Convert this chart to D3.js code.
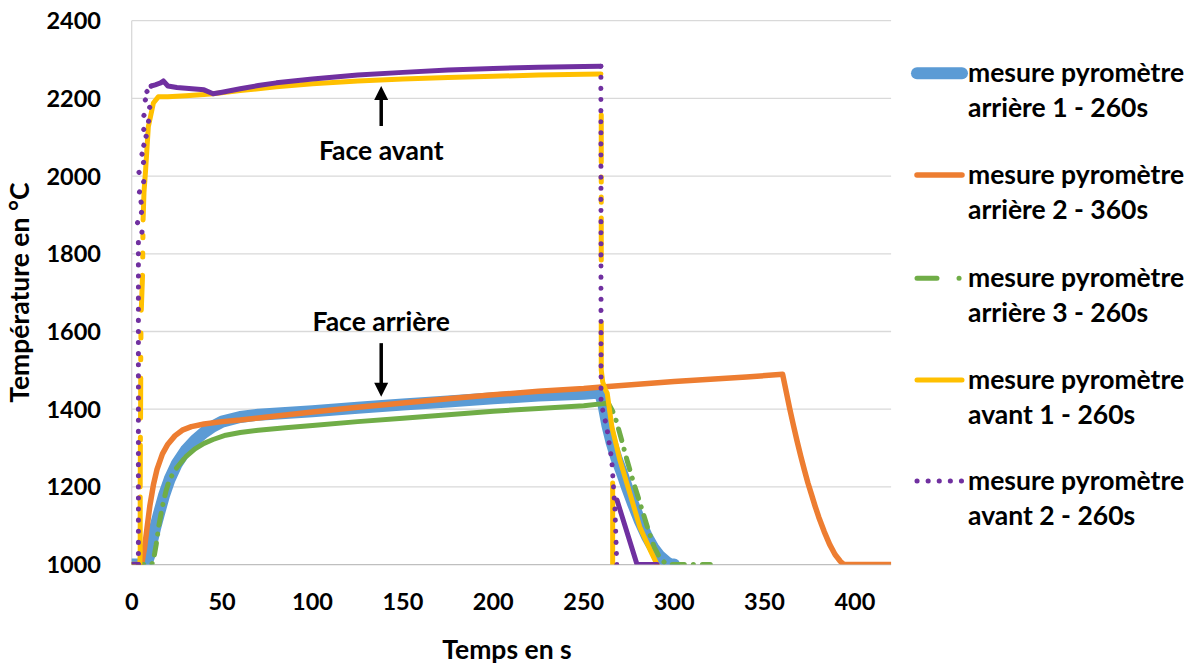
<!DOCTYPE html>
<html><head><meta charset="utf-8">
<script src="https://cdn.jsdelivr.net/npm/d3@7"></script>
<style>
html,body{margin:0;padding:0;background:#fff;}
svg{display:block;}
text{font-family:Lato,"Open Sans",sans-serif;font-weight:700;fill:#000;}
</style></head>
<body>
<svg id="chart" width="1200" height="664"></svg>
<script>
// ---- data (time in s, temperature in °C); null = break in the trace ----
const xTicks = [0, 50, 100, 150, 200, 250, 300, 350, 400];
const yTicks = [1000, 1200, 1400, 1600, 1800, 2000, 2200, 2400];

const seriesNames = [
  ["mesure pyromètre", "arrière 1 - 260s"],
  ["mesure pyromètre", "arrière 2 - 360s"],
  ["mesure pyromètre", "arrière 3 - 260s"],
  ["mesure pyromètre", "avant 1 - 260s"],
  ["mesure pyromètre", "avant 2 - 260s"]
];

// arrière 1 (back face, 260 s)
const arriere1 = [[0,1000],[8,1000],[9.5,1020],[11,1055],[13,1095],[15,1130],[18,1180],[21,1220],[25,1260],[30,1295],[35,1320],[40,1340],[45,1356],[50,1368],[60,1380],[70,1386],[85,1390],[100,1395],[125,1404],[150,1412],[175,1420],[200,1428],[225,1435],[250,1440],[259,1443],[261,1410],[263,1360],[265.5,1313],[268,1275],[271,1238],[274,1198],[277,1160],[281,1113],[285,1072],[288.5,1043],[292,1022],[296,1006],[298,1000],[300,1000]];

// arrière 2 (back face, 360 s)
const arriere2 = [[0,1000],[5.5,1000],[7,1040],[8.5,1095],[10,1150],[12,1205],[14,1245],[17,1285],[20,1310],[24,1332],[28,1346],[33,1355],[40,1362],[50,1368],[60,1372],[75,1380],[100,1393],[125,1405],[150,1416],[175,1427],[200,1437],[225,1446],[250,1453],[260,1457],[280,1464],[300,1471],[320,1477],[340,1483],[360,1490],[362,1445],[364,1400],[366,1358],[368,1318],[370,1280],[372,1244],[374,1210],[376,1180],[378,1150],[380,1122],[383,1085],[386,1052],[389,1026],[392,1008],[394,1000],[420,1000]];

// arrière 3 (back face, 260 s): sparse parts render dashed, dense plateau renders solid
const arriere3Rise = [[0,1000],[11,1000],[12,1010],[13.5,1050],[15,1100],[17,1150],[19,1190],[21,1220],[25,1250],[30,1278]];
const arriere3Plateau = [[30,1278],[35,1298],[40,1312],[45,1322],[52,1333],[60,1340],[70,1346],[85,1352],[100,1358],[125,1368],[150,1377],[175,1386],[200,1395],[225,1402],[250,1409],[262,1415]];
const arriere3Cool = [[262,1415],[264,1412],[266,1395],[268,1370],[271,1320],[274,1268],[277,1220],[280,1175],[283,1130],[286,1085],[289,1045],[292,1018],[295,1004],[297,1000],[320,1000]];

// avant 1 (front face, 260 s)
const avant1 = [[0,1000],[4.5,1000],[4.7,1030],[4.7,1174],null,[4.7,1200],[4.8,1308],null,[4.8,1321],[4.8,1328],null,[4.9,1377],[5,1480],null,[5,1527],[5,1534],null,[5.1,1583],[5.1,1596],null,[5.3,1655],[6,1745],null,[6.1,1792],[6.1,1802],null,[6.2,1841],[6.2,1848],null,[6.3,1887],[6.8,1959],[7.7,2016],[9.2,2127],[12,2188],[14.7,2204],[20,2204],[30,2207],[40,2210],[45,2212],[60,2220],[80,2230],[100,2238],[125,2245],[150,2250],[175,2254],[200,2257],[225,2260],[250,2262],[259.5,2263],null,[259.7,2157],[259.7,2036],null,[259.7,1998],[259.7,1985],null,[259.7,1946],[259.7,1933],null,[259.7,1892],[259.7,1784],null,[259.7,1624],[259.7,1501],[260.5,1470],[262,1450],[263,1441],[265.6,1354],[270,1269],[275.5,1184],[281,1097],[286.7,1038],[290.6,1000],null,[266,1210],[266,1000]];

// avant 2 (front face, 260 s): dotted where sparse, solid where dense
const avant2Start = [[0,1000],[3.7,1000]];
const avant2Rise = [[3.7,1000],[3.7,1830],[6,1860],[3.2,1880],[6.5,1920],[3.5,1950],[7,1990],[4,2010],[8,2050],[4.5,2060],[9,2100],[5,2110],[10,2140],[5.5,2150],[10.5,2175],[6.5,2190],[10,2210],[7,2225],[9.5,2230],[11,2232]];
const avant2Plateau = [[11,2232],[13,2235],[16,2240],[17.5,2245],[20,2232],[25,2228],[30,2226],[35,2224],[40,2222],[45,2212],[50,2216],[60,2225],[70,2233],[80,2240],[100,2250],[125,2260],[150,2267],[175,2273],[200,2277],[225,2280],[250,2282],[259.5,2283]];
const avant2Drop = [[259.5,2283],[259.6,1415],[262.7,1355],[265.5,1269],[267.3,1140],[268.3,1000]];
const avant2Tail = [[268.4,1166],[279.5,1000],[290.6,1000]];

const annotations = [
  {label:"Face avant", t:138, textV:2067, from:2129, to:2232},
  {label:"Face arrière", t:138, textV:1627, from:1570, to:1432}
];

// ---- layout ----
const svg = d3.select("#chart");
const x = d3.scaleLinear().domain([0,420]).range([131.7,891.1]);
const y = d3.scaleLinear().domain([1000,2400]).range([564.6,20.7]);

const colors = ["#5B9BD5","#ED7D31","#70AD47","#FFC000","#7030A0"];
const widths = [12, 5.5, 5, 5, 5];
const GREEN_DASH = "12,9,0.1,9";
const PURPLE_DOT = "0.1,11";

const labelFont = "26.5px", numFont = "23.5px";

// gridlines
svg.append("g").selectAll("line").data(yTicks.filter(d=>d>1000)).join("line")
  .attr("x1", x(0)).attr("x2", x(420))
  .attr("y1", d=>y(d)).attr("y2", d=>y(d))
  .attr("stroke","#d9d9d9").attr("stroke-width",1.3);
svg.append("line").attr("x1",x(0)).attr("x2",x(0)).attr("y1",y(2400)).attr("y2",y(1000))
  .attr("stroke","#d9d9d9").attr("stroke-width",1.3);
svg.append("line").attr("x1",x(0)).attr("x2",x(420)).attr("y1",y(1000)).attr("y2",y(1000))
  .attr("stroke","#bfbfbf").attr("stroke-width",1.3);

// tick labels
svg.append("g").selectAll("text").data(yTicks).join("text")
  .attr("x", 101).attr("y", d=>y(d)).attr("dy","0.36em")
  .attr("text-anchor","end").style("font-size",numFont).text(d=>d);
svg.append("g").selectAll("text").data(xTicks).join("text")
  .attr("x", d=>x(d)).attr("y", 602).attr("dy","0.36em")
  .attr("text-anchor","middle").style("font-size",numFont).text(d=>d);

// axis titles
svg.append("text").attr("x",507).attr("y",649).attr("dy","0.36em")
  .attr("text-anchor","middle").style("font-size",labelFont).text("Temps en s");
svg.append("text").attr("transform",`translate(19,${(y(1000)+y(2400))/2}) rotate(-90)`)
  .attr("dy","0.36em").attr("text-anchor","middle").style("font-size",labelFont).text("Température en °C");

// clip
svg.append("clipPath").attr("id","plotclip").append("rect")
  .attr("x",x(0)).attr("y",y(2400)).attr("width",x(420)-x(0)).attr("height",y(1000)-y(2400));

const line = d3.line().defined(d=>d!==null).x(d=>x(d[0])).y(d=>y(d[1]));
const plot = svg.append("g").attr("clip-path","url(#plotclip)");
function draw(data, i, dash) {
  plot.append("path").datum(data).attr("d",line)
    .attr("fill","none").attr("stroke",colors[i]).attr("stroke-width",widths[i])
    .attr("stroke-linejoin","round").attr("stroke-linecap","round")
    .attr("stroke-dasharray",dash || null);
}
draw(arriere1, 0);
draw(arriere2, 1);
draw(arriere3Rise, 2, GREEN_DASH);
draw(arriere3Plateau, 2);
draw(arriere3Cool, 2, GREEN_DASH);
draw(avant1, 3);
draw(avant2Start, 4);
draw(avant2Rise, 4, PURPLE_DOT);
draw(avant2Plateau, 4);
draw(avant2Drop, 4, PURPLE_DOT);
draw(avant2Tail, 4);

// annotations
annotations.forEach(a=>{
  const ax = x(a.t);
  const y0 = y(a.from), y1 = y(a.to);
  const dir = y1 < y0 ? -1 : 1;
  const head = 14;
  svg.append("line").attr("x1",ax).attr("x2",ax).attr("y1",y0).attr("y2",y1 - dir*head*0.8)
    .attr("stroke","#000").attr("stroke-width",3.5);
  svg.append("path").attr("d",`M${ax},${y1} L${ax-7},${y1-dir*head} L${ax+7},${y1-dir*head} Z`).attr("fill","#000");
  svg.append("text").attr("x",ax).attr("y",y(a.textV)).attr("dy","0.36em")
    .attr("text-anchor","middle").style("font-size",labelFont).text(a.label);
});

// legend
const legY = [73.3, 175, 278.3, 380, 481];
const legDash = [null, null, "20,22,0.1,20", null, PURPLE_DOT];
const leg = svg.append("g");
seriesNames.forEach((names,i)=>{
  const g = leg.append("g").attr("transform",`translate(0,${legY[i]})`);
  g.append("line").attr("x1",917).attr("x2",962).attr("y1",0).attr("y2",0)
    .attr("stroke",colors[i]).attr("stroke-width",widths[i]).attr("stroke-linecap","round")
    .attr("stroke-dasharray", legDash[i]);
  g.append("text").attr("x",968).attr("y",0).attr("dy","0.33em").style("font-size",labelFont).text(names[0]);
  g.append("text").attr("x",968).attr("y",35).attr("dy","0.33em").style("font-size",labelFont).text(names[1]);
});
</script>
</body></html>
